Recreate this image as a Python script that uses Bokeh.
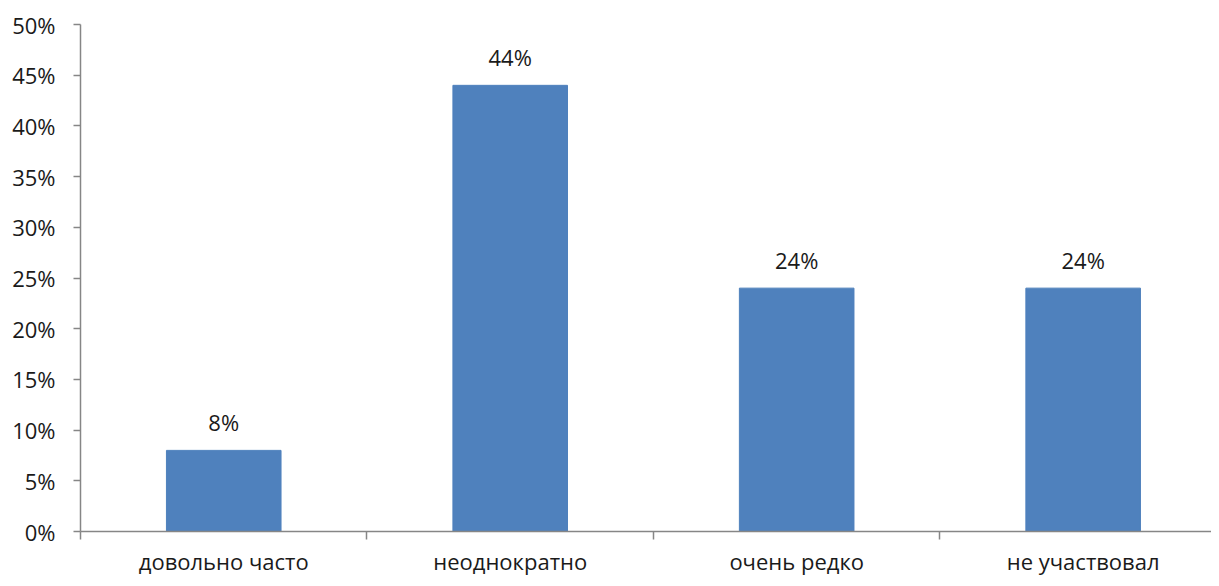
from bokeh.plotting import figure
from bokeh.models import Range1d, FixedTicker, NumeralTickFormatter, ColumnDataSource
from bokeh.core.properties import value
from bokeh.embed import file_html
from bokeh.resources import INLINE

categories = ["довольно часто", "неоднократно", "очень редко", "не участвовал"]
shares = [0.08, 0.44, 0.24, 0.24]
labels = ["8%", "44%", "24%", "24%"]
y_ticks = [0.0, 0.05, 0.10, 0.15, 0.20, 0.25, 0.30, 0.35, 0.40, 0.45, 0.50]

xs = [i + 0.5 for i in range(len(categories))]
src = ColumnDataSource(dict(x=xs, top=shares, lab=labels))

FONT = "Open Sans"
FS = "22px"
TXT = "#1a1a1a"
AXC = "#868686"

p = figure(width=1211, height=578, output_backend="svg", toolbar_location=None,
           x_range=Range1d(0, 3.948), y_range=Range1d(0, 0.5),
           min_border_left=80, min_border_right=0, min_border_top=24, min_border_bottom=40)
p.outline_line_color = None
p.xgrid.visible = False
p.ygrid.visible = False

p.vbar(x="x", top="top", width=0.4, bottom=0, source=src,
       fill_color="#4F81BD", line_color="#4F81BD")
p.text(x="x", y="top", text="lab", source=src, text_align="center",
       text_baseline="middle", y_offset=-28, text_font=value(FONT),
       text_font_size=FS, text_color=TXT)

ax = p.xaxis[0]
ax.ticker = FixedTicker(ticks=xs, minor_ticks=[0, 1, 2, 3, 4])
ax.major_label_overrides = {x: c for x, c in zip(xs, categories)}
ax.major_tick_out = 0
ax.major_tick_in = 0
ax.minor_tick_out = 8
ax.minor_tick_in = 0
ax.axis_line_color = AXC
ax.axis_line_width = 1.5
ax.minor_tick_line_color = AXC
ax.minor_tick_line_width = 1.5
ax.major_label_text_font = FONT
ax.major_label_text_font_size = FS
ax.major_label_text_color = TXT
ax.major_label_standoff = 6

ay = p.yaxis[0]
ay.ticker = FixedTicker(ticks=y_ticks, minor_ticks=[])
ay.formatter = NumeralTickFormatter(format="0%")
ay.major_tick_out = 7
ay.major_tick_in = 0
ay.axis_line_color = AXC
ay.axis_line_width = 1.5
ay.major_tick_line_color = AXC
ay.major_tick_line_width = 1.5
ay.major_label_text_font = FONT
ay.major_label_text_font_size = FS
ay.major_label_text_color = TXT
ay.major_label_standoff = 18

open("out.html", "w").write(file_html(p, INLINE))
